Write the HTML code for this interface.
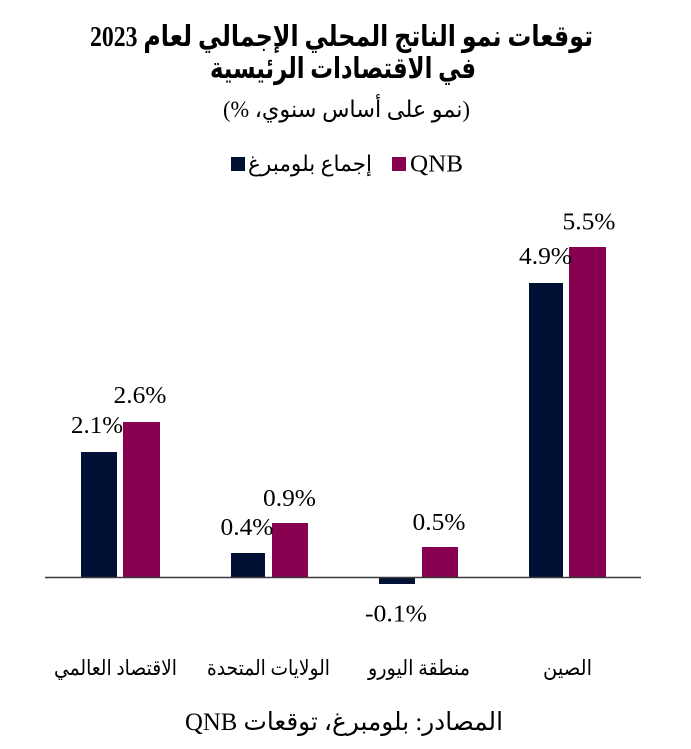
<!DOCTYPE html>
<html>
<head>
<meta charset="utf-8">
<style>
html,body{margin:0;padding:0;background:#fff;}
body{width:691px;height:749px;overflow:hidden;}
svg{display:block;}
.ar{font-family:"Liberation Serif","DejaVu Sans",serif;}
.lat{font-family:"Liberation Serif",serif;}
</style>
</head>
<body>
<svg width="691" height="749" viewBox="0 0 691 749" xmlns="http://www.w3.org/2000/svg">
  <rect width="691" height="749" fill="#fff"/>

  <!-- Title -->
  <text class="ar" x="341.5" y="46" font-size="29" font-weight="bold" text-anchor="middle" direction="rtl" textLength="503" lengthAdjust="spacingAndGlyphs" fill="#000">توقعات نمو الناتج المحلي الإجمالي لعام 2023</text>
  <text class="ar" x="343" y="78" font-size="29" font-weight="bold" text-anchor="middle" direction="rtl" textLength="266" lengthAdjust="spacingAndGlyphs" fill="#000">في الاقتصادات الرئيسية</text>
  <text class="ar" x="346.5" y="117" font-size="23" text-anchor="middle" direction="rtl" textLength="247" lengthAdjust="spacingAndGlyphs" fill="#000">(نمو على أساس سنوي، %)</text>

  <!-- Legend -->
  <rect x="231" y="157" width="14" height="14" fill="#011035"/>
  <text class="ar" x="310" y="171" font-size="22" text-anchor="middle" direction="rtl" textLength="124" lengthAdjust="spacingAndGlyphs" fill="#000">إجماع بلومبرغ</text>
  <rect x="392" y="157" width="14" height="14" fill="#880050"/>
  <text class="lat" x="410" y="171.5" font-size="24" textLength="53" lengthAdjust="spacingAndGlyphs" fill="#000">QNB</text>

  <!-- Bars -->
  <rect x="81" y="452" width="36" height="125" fill="#011035"/>
  <rect x="123" y="422" width="37" height="155" fill="#880050"/>

  <rect x="231" y="553" width="34" height="24" fill="#011035"/>
  <rect x="272" y="523" width="36" height="54" fill="#880050"/>

  <rect x="379" y="577" width="36" height="7" fill="#011035"/>
  <rect x="422" y="547" width="36" height="30" fill="#880050"/>

  <rect x="529" y="283" width="34" height="294" fill="#011035"/>
  <rect x="569" y="247" width="37" height="330" fill="#880050"/>

  <!-- Axis -->
  <line x1="45" y1="577.5" x2="641" y2="577.5" stroke="#3a3a3a" stroke-width="1.6"/>

  <!-- Value labels -->
  <text class="lat" x="71" y="433" font-size="24" textLength="52" lengthAdjust="spacingAndGlyphs" fill="#000">2.1%</text>
  <text class="lat" x="113.5" y="403" font-size="24" textLength="53" lengthAdjust="spacingAndGlyphs" fill="#000">2.6%</text>
  <text class="lat" x="220.5" y="535" font-size="24" textLength="53" lengthAdjust="spacingAndGlyphs" fill="#000">0.4%</text>
  <text class="lat" x="263" y="506" font-size="24" textLength="53" lengthAdjust="spacingAndGlyphs" fill="#000">0.9%</text>
  <text class="lat" x="365" y="621.5" font-size="24" textLength="62" lengthAdjust="spacingAndGlyphs" fill="#000">-0.1%</text>
  <text class="lat" x="412.5" y="530" font-size="24" textLength="53" lengthAdjust="spacingAndGlyphs" fill="#000">0.5%</text>
  <text class="lat" x="519" y="264" font-size="24" textLength="53" lengthAdjust="spacingAndGlyphs" fill="#000">4.9%</text>
  <text class="lat" x="562.5" y="229.5" font-size="24" textLength="53" lengthAdjust="spacingAndGlyphs" fill="#000">5.5%</text>

  <!-- Category labels -->
  <text class="ar" x="115.5" y="675" font-size="21" text-anchor="middle" direction="rtl" textLength="123" lengthAdjust="spacingAndGlyphs" fill="#000">الاقتصاد العالمي</text>
  <text class="ar" x="268.5" y="675" font-size="21" text-anchor="middle" direction="rtl" textLength="123" lengthAdjust="spacingAndGlyphs" fill="#000">الولايات المتحدة</text>
  <text class="ar" x="419" y="675" font-size="21" text-anchor="middle" direction="rtl" textLength="102" lengthAdjust="spacingAndGlyphs" fill="#000">منطقة اليورو</text>
  <text class="ar" x="567.5" y="675" font-size="21" text-anchor="middle" direction="rtl" textLength="49" lengthAdjust="spacingAndGlyphs" fill="#000">الصين</text>

  <!-- Source -->
  <text class="ar" x="344" y="730" font-size="25" text-anchor="middle" direction="rtl" textLength="318" lengthAdjust="spacingAndGlyphs" fill="#000">المصادر: بلومبرغ، توقعات QNB</text>
</svg>
</body>
</html>
